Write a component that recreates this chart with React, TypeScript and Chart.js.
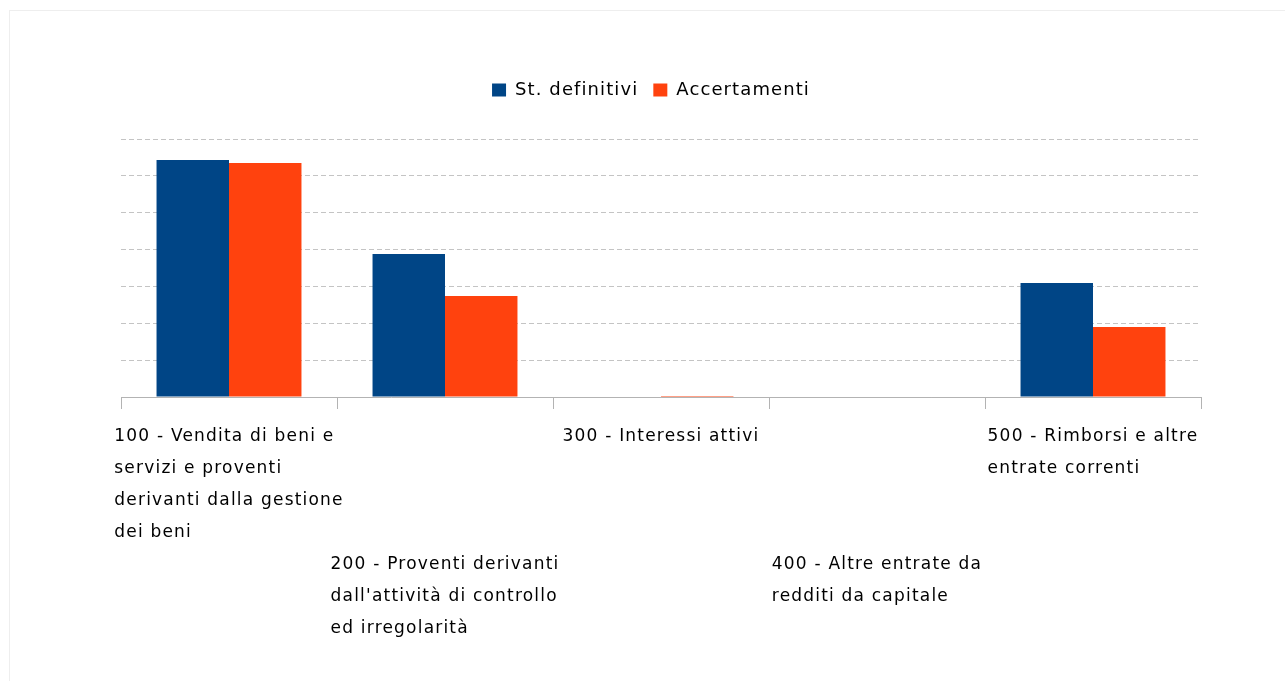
import React, { useEffect, useRef } from 'react';
import { Chart, registerables } from 'chart.js';

Chart.register(...registerables);

// Category labels, as wrapped in the reference
const categoryLines: string[][] = [
  ['100 - Vendita di beni e', 'servizi e proventi', 'derivanti dalla gestione', 'dei beni'],
  ['200 - Proventi derivanti', "dall'attività di controllo", 'ed irregolarità'],
  ['300 - Interessi attivi'],
  ['400 - Altre entrate da', 'redditi da capitale'],
  ['500 - Rimborsi e altre', 'entrate correnti'],
];
const categories = categoryLines.map((l) => l.join(' '));

const seriesNames = ['St. definitivi', 'Accertamenti'];
const stDefinitivi = [6.43, 3.88, 0, 0, 3.09];
const accertamenti = [6.35, 2.74, 0.03, 0, 1.9];

const yMin = 0;
const yMax = 7;
const yStep = 1;

const legendSpacingPlugin = {
  id: 'legendSpacing',
  beforeLayout(chart: any) {
    chart.ctx.letterSpacing = '1.1px';
  },
  beforeDraw(chart: any) {
    chart.ctx.letterSpacing = '1.1px';
  },
};

const categoryLabelPlugin = {
  id: 'categoryLabels',
  afterDraw(chart: any) {
    const { ctx } = chart;
    const x = chart.scales.x;
    ctx.save();
    ctx.font = '17px "DejaVu Sans"';
    ctx.letterSpacing = '1.2px';
    ctx.fillStyle = '#000000';
    ctx.textAlign = 'left';
    ctx.textBaseline = 'alphabetic';
    categoryLines.forEach((lines, i) => {
      const cx = x.getPixelForValue(i);
      const w = Math.max(...lines.map((l) => ctx.measureText(l).width));
      const left = cx - w / 2;
      const startRow = i % 2 === 0 ? 0 : 4;
      lines.forEach((l, k) => {
        ctx.fillText(l, left, x.bottom + 32 + (startRow + k) * 32);
      });
    });
    ctx.restore();
  },
};

export default function App() {
  const ref = useRef<HTMLCanvasElement>(null);

  useEffect(() => {
    const chart = new Chart(ref.current as HTMLCanvasElement, {
      type: 'bar',
      data: {
        labels: categories,
        datasets: [
          {
            label: seriesNames[0],
            data: stDefinitivi,
            backgroundColor: '#004586',
            borderWidth: 0,
            barPercentage: 1,
            categoryPercentage: 0.671,
          },
          {
            label: seriesNames[1],
            data: accertamenti,
            backgroundColor: '#ff420e',
            borderWidth: 0,
            barPercentage: 1,
            categoryPercentage: 0.671,
          },
        ],
      },
      options: {
        responsive: false,
        animation: false,
        devicePixelRatio: 1,
        layout: { padding: { left: 101, right: 84, top: 66, bottom: 272 } },
        plugins: {
          legend: {
            display: true,
            position: 'top',
            labels: {
              boxWidth: 14,
              boxHeight: 13,
              padding: 15,
              color: '#000000',
              font: { family: '"DejaVu Sans"', size: 18 },
            },
          },
          title: {
            display: true,
            text: '',
            weight: 500,
            position: 'top',
            font: { size: 1, lineHeight: 1 },
            padding: { top: 0, bottom: 29 },
          },
          tooltip: { enabled: false },
        },
        scales: {
          x: {
            ticks: { display: false },
            grid: {
              display: true,
              offset: true,
              drawOnChartArea: false,
              drawTicks: true,
              tickLength: 12,
              tickColor: '#b3b3b3',
              tickWidth: 1,
            },
            border: { display: true, color: '#b3b3b3', width: 1 },
          },
          y: {
            min: yMin,
            max: yMax,
            ticks: { display: false, stepSize: yStep },
            grid: {
              display: true,
              color: '#c4c4c4',
              lineWidth: 1,
              drawTicks: true,
              tickLength: 20,
              tickColor: 'rgba(0,0,0,0)',
            },
            border: { display: false, dash: [5, 3] },
          },
        },
      },
      plugins: [legendSpacingPlugin, categoryLabelPlugin],
    });
    return () => chart.destroy();
  }, []);

  return (
    <>
      <div
        style={{
          position: 'fixed',
          left: 9,
          top: 10,
          right: 0,
          bottom: 0,
          borderLeft: '1px solid #eeeeee',
          borderTop: '1px solid #eeeeee',
        }}
      />
      <canvas
        ref={ref}
        width={1285}
        height={681}
        style={{ position: 'fixed', left: 0, top: 0, width: 1285, height: 681, display: 'block' }}
      />
    </>
  );
}
